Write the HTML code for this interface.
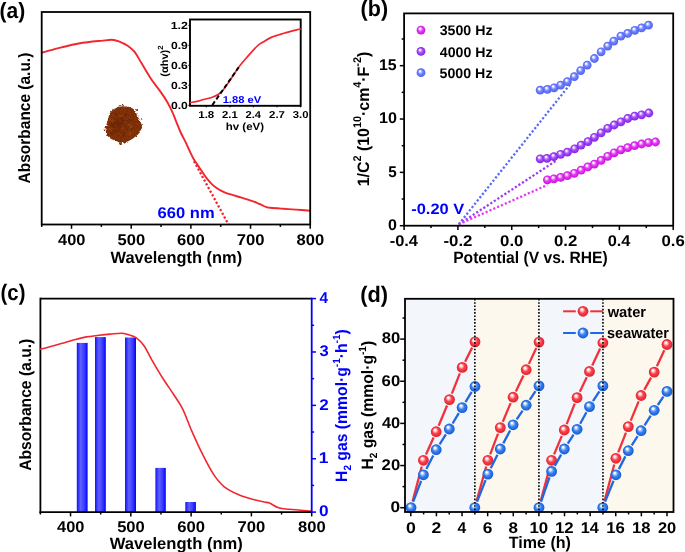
<!DOCTYPE html>
<html><head><meta charset="utf-8"><style>
html,body{margin:0;padding:0;background:#fff;}
svg{display:block;filter:grayscale(0%);}
text{white-space:pre;}
</style></head><body>
<svg width="685" height="552" viewBox="0 0 685 552" text-rendering="geometricPrecision">
<rect width="685" height="552" fill="#fff"/>
<defs>
<radialGradient id="gm" cx="0.5" cy="0.5" r="0.5" fx="0.36" fy="0.3"><stop offset="0" stop-color="#ffffff"/><stop offset="0.12" stop-color="#ffffff"/><stop offset="0.3" stop-color="#f3a8fa"/><stop offset="0.55" stop-color="#e23cf2"/><stop offset="0.85" stop-color="#d21de6"/><stop offset="1" stop-color="#c414d8"/></radialGradient>
<radialGradient id="gp" cx="0.5" cy="0.5" r="0.5" fx="0.36" fy="0.3"><stop offset="0" stop-color="#ffffff"/><stop offset="0.12" stop-color="#ffffff"/><stop offset="0.3" stop-color="#cfa3fb"/><stop offset="0.55" stop-color="#a14cf5"/><stop offset="0.85" stop-color="#8f2ef0"/><stop offset="1" stop-color="#8224e0"/></radialGradient>
<radialGradient id="gb" cx="0.5" cy="0.5" r="0.5" fx="0.36" fy="0.3"><stop offset="0" stop-color="#ffffff"/><stop offset="0.12" stop-color="#ffffff"/><stop offset="0.3" stop-color="#bcc5ff"/><stop offset="0.55" stop-color="#6f80fb"/><stop offset="0.85" stop-color="#5a6cf7"/><stop offset="1" stop-color="#4c5ef0"/></radialGradient>
<radialGradient id="gr" cx="0.5" cy="0.5" r="0.5" fx="0.36" fy="0.3"><stop offset="0" stop-color="#ffffff"/><stop offset="0.12" stop-color="#ffffff"/><stop offset="0.3" stop-color="#ffb8bc"/><stop offset="0.55" stop-color="#f5444e"/><stop offset="0.85" stop-color="#ee2a36"/><stop offset="1" stop-color="#e0202c"/></radialGradient>
<radialGradient id="gB" cx="0.5" cy="0.5" r="0.5" fx="0.36" fy="0.3"><stop offset="0" stop-color="#ffffff"/><stop offset="0.12" stop-color="#ffffff"/><stop offset="0.3" stop-color="#a9c8f7"/><stop offset="0.55" stop-color="#3a82ea"/><stop offset="0.85" stop-color="#1f68e0"/><stop offset="1" stop-color="#1558d0"/></radialGradient>
<linearGradient id="bar" x1="0" y1="0" x2="1" y2="0"><stop offset="0" stop-color="#1010ff"/><stop offset="0.35" stop-color="#6060ff"/><stop offset="0.7" stop-color="#3a3aff"/><stop offset="1" stop-color="#0000ff"/></linearGradient>
</defs>
<filter id="pb" x="-20%" y="-20%" width="140%" height="140%" color-interpolation-filters="sRGB"><feTurbulence type="fractalNoise" baseFrequency="0.45" numOctaves="2" seed="5" result="n"/><feDisplacementMap in="SourceGraphic" in2="n" scale="3.5" xChannelSelector="R" yChannelSelector="G" result="d"/><feTurbulence type="fractalNoise" baseFrequency="0.7" numOctaves="2" seed="9" result="n2"/><feColorMatrix in="n2" type="matrix" values="0 0 0 0 0.38  0 0 0 0 0.13  0 0 0 0 0.01  2.2 0 0 0 -0.95" result="tex"/><feComposite in="tex" in2="d" operator="atop" result="t"/><feGaussianBlur in="t" stdDeviation="0.45"/></filter>
<g filter="url(#pb)">
<polygon points="141.6,124.6 141.9,126.3 141.8,128.0 141.5,129.6 140.8,131.1 139.8,132.5 138.7,133.8 137.5,134.9 136.3,135.9 135.1,136.9 133.9,137.8 132.7,138.7 131.4,139.5 130.1,140.2 128.7,140.9 127.3,141.5 125.9,142.1 124.4,142.6 122.8,143.0 121.2,143.1 119.6,142.6 118.2,141.9 116.8,141.2 115.3,140.6 113.9,140.0 112.4,139.4 110.9,138.7 109.6,137.8 108.3,136.8 107.3,135.5 106.5,134.0 106.0,132.4 105.7,130.8 105.7,129.2 105.8,127.6 106.1,126.1 106.5,124.6 106.9,123.2 107.3,121.9 107.7,120.6 108.0,119.2 108.4,117.9 108.7,116.5 109.2,115.1 109.7,113.6 110.5,112.3 111.5,111.1 112.6,110.0 113.9,109.1 115.2,108.4 116.7,107.7 118.1,107.2 119.7,106.8 121.2,106.5 122.8,106.3 124.4,106.3 126.0,106.4 127.6,106.6 129.2,106.9 130.8,107.5 132.3,108.2 133.6,109.2 134.7,110.4 135.6,111.8 136.3,113.3 136.9,114.8 137.5,116.1 138.2,117.4 138.9,118.7 139.7,120.1 140.5,121.5 141.1,123.0" fill="#85340a"/>
<circle cx="121.6" cy="126.4" r="0.9" fill="#6c2604" opacity="0.75"/>
<circle cx="117.5" cy="123.4" r="2.1" fill="#6c2604" opacity="0.75"/>
<circle cx="122.8" cy="125.7" r="0.9" fill="#a0470f" opacity="0.75"/>
<circle cx="127.5" cy="127.7" r="1.0" fill="#72290a" opacity="0.75"/>
<circle cx="124.0" cy="133.2" r="1.6" fill="#6c2604" opacity="0.75"/>
<circle cx="111.6" cy="132.8" r="1.6" fill="#6c2604" opacity="0.75"/>
<circle cx="126.4" cy="128.9" r="1.0" fill="#72290a" opacity="0.75"/>
<circle cx="118.4" cy="135.2" r="0.9" fill="#7a2d05" opacity="0.75"/>
<circle cx="120.1" cy="123.4" r="1.6" fill="#6c2604" opacity="0.75"/>
<circle cx="123.3" cy="124.8" r="1.5" fill="#7a2d05" opacity="0.75"/>
<circle cx="111.8" cy="122.3" r="1.6" fill="#a0470f" opacity="0.75"/>
<circle cx="118.5" cy="125.7" r="1.8" fill="#7a2d05" opacity="0.75"/>
<circle cx="122.8" cy="132.5" r="1.5" fill="#72290a" opacity="0.75"/>
<circle cx="119.0" cy="129.7" r="2.2" fill="#72290a" opacity="0.75"/>
<circle cx="126.8" cy="128.5" r="1.0" fill="#963f0e" opacity="0.75"/>
<circle cx="122.0" cy="124.5" r="1.9" fill="#6c2604" opacity="0.75"/>
<circle cx="111.5" cy="119.1" r="1.3" fill="#963f0e" opacity="0.75"/>
<circle cx="118.4" cy="130.1" r="0.9" fill="#a0470f" opacity="0.75"/>
<circle cx="125.6" cy="126.6" r="0.9" fill="#6c2604" opacity="0.75"/>
<circle cx="119.8" cy="115.9" r="1.2" fill="#a0470f" opacity="0.75"/>
<circle cx="115.4" cy="130.7" r="2.1" fill="#6c2604" opacity="0.75"/>
<circle cx="117.2" cy="131.2" r="0.9" fill="#a0470f" opacity="0.75"/>
<circle cx="122.7" cy="122.7" r="1.4" fill="#7a2d05" opacity="0.75"/>
<circle cx="128.5" cy="121.0" r="1.4" fill="#7a2d05" opacity="0.75"/>
<circle cx="110.7" cy="120.7" r="2.0" fill="#a0470f" opacity="0.75"/>
<circle cx="121.5" cy="130.2" r="1.8" fill="#963f0e" opacity="0.75"/>
<circle cx="120.1" cy="126.7" r="1.0" fill="#6c2604" opacity="0.75"/>
<circle cx="122.9" cy="127.7" r="2.0" fill="#a0470f" opacity="0.75"/>
<circle cx="124.1" cy="128.1" r="1.4" fill="#7a2d05" opacity="0.75"/>
<circle cx="117.1" cy="130.3" r="1.8" fill="#7a2d05" opacity="0.75"/>
<circle cx="113.9" cy="123.7" r="1.4" fill="#6c2604" opacity="0.75"/>
<circle cx="131.7" cy="114.8" r="1.3" fill="#72290a" opacity="0.75"/>
<circle cx="121.3" cy="125.4" r="0.9" fill="#a0470f" opacity="0.75"/>
<circle cx="125.2" cy="125.7" r="1.0" fill="#7a2d05" opacity="0.75"/>
<circle cx="121.3" cy="123.7" r="1.0" fill="#72290a" opacity="0.75"/>
<circle cx="126.6" cy="127.5" r="0.9" fill="#6c2604" opacity="0.75"/>
<circle cx="123.9" cy="129.6" r="2.1" fill="#963f0e" opacity="0.75"/>
<circle cx="117.2" cy="120.5" r="2.0" fill="#6c2604" opacity="0.75"/>
<circle cx="129.0" cy="124.2" r="1.2" fill="#a0470f" opacity="0.75"/>
<circle cx="129.0" cy="132.8" r="1.5" fill="#963f0e" opacity="0.75"/>
<circle cx="119.9" cy="117.7" r="2.1" fill="#7a2d05" opacity="0.75"/>
<circle cx="120.5" cy="124.1" r="2.1" fill="#72290a" opacity="0.75"/>
<circle cx="122.7" cy="120.3" r="1.8" fill="#6c2604" opacity="0.75"/>
<circle cx="122.1" cy="129.6" r="1.3" fill="#7a2d05" opacity="0.75"/>
<circle cx="123.8" cy="132.0" r="1.3" fill="#72290a" opacity="0.75"/>
<circle cx="124.4" cy="135.7" r="1.9" fill="#7a2d05" opacity="0.75"/>
<circle cx="126.8" cy="115.1" r="1.1" fill="#7a2d05" opacity="0.75"/>
<circle cx="112.3" cy="125.0" r="1.9" fill="#6c2604" opacity="0.75"/>
<circle cx="119.8" cy="125.0" r="2.1" fill="#72290a" opacity="0.75"/>
<circle cx="110.1" cy="128.8" r="2.1" fill="#963f0e" opacity="0.75"/>
<circle cx="120.5" cy="126.8" r="1.5" fill="#7a2d05" opacity="0.75"/>
<circle cx="119.0" cy="130.3" r="2.0" fill="#72290a" opacity="0.75"/>
<circle cx="113.4" cy="125.7" r="2.0" fill="#6c2604" opacity="0.75"/>
<circle cx="126.5" cy="128.2" r="1.5" fill="#7a2d05" opacity="0.75"/>
<circle cx="127.3" cy="134.5" r="0.9" fill="#963f0e" opacity="0.75"/>
<circle cx="132.0" cy="121.1" r="1.4" fill="#a0470f" opacity="0.75"/>
<circle cx="132.1" cy="121.2" r="2.2" fill="#7a2d05" opacity="0.75"/>
<circle cx="130.6" cy="125.9" r="1.9" fill="#a0470f" opacity="0.75"/>
<circle cx="129.5" cy="133.7" r="1.7" fill="#a0470f" opacity="0.75"/>
<circle cx="118.0" cy="130.7" r="0.8" fill="#7a2d05" opacity="0.75"/>
<circle cx="125.6" cy="114.8" r="1.5" fill="#6c2604" opacity="0.75"/>
<circle cx="128.1" cy="122.0" r="2.0" fill="#7a2d05" opacity="0.75"/>
<circle cx="123.4" cy="127.9" r="1.5" fill="#963f0e" opacity="0.75"/>
<circle cx="122.9" cy="120.0" r="1.4" fill="#72290a" opacity="0.75"/>
<circle cx="131.2" cy="133.8" r="2.1" fill="#963f0e" opacity="0.75"/>
<circle cx="116.5" cy="114.8" r="1.4" fill="#72290a" opacity="0.75"/>
<circle cx="128.6" cy="121.0" r="1.0" fill="#72290a" opacity="0.75"/>
<circle cx="110.3" cy="123.7" r="1.7" fill="#7a2d05" opacity="0.75"/>
<circle cx="122.8" cy="122.4" r="1.5" fill="#7a2d05" opacity="0.75"/>
<circle cx="121.3" cy="116.8" r="1.8" fill="#963f0e" opacity="0.75"/>
<circle cx="119" cy="105.6" r="0.9" fill="#8a380c"/>
<circle cx="122.6" cy="105.6" r="1.0" fill="#8a380c"/>
<circle cx="137.1" cy="110" r="1.1" fill="#8a380c"/>
<circle cx="141.6" cy="119" r="0.8" fill="#8a380c"/>
<circle cx="104.5" cy="129.4" r="0.8" fill="#8a380c"/>
<circle cx="120.4" cy="143.4" r="1.4" fill="#8a380c"/>
</g>
<path d="M41.70,52.80 C44.33,52.07 51.95,49.83 57.50,48.40 C63.05,46.97 69.15,45.35 75.00,44.20 C80.85,43.05 88.22,42.05 92.60,41.50 C96.98,40.95 98.10,41.18 101.30,40.90 C104.50,40.62 108.88,39.72 111.80,39.80 C114.72,39.88 116.17,40.40 118.80,41.40 C121.43,42.40 124.97,44.05 127.60,45.80 C130.23,47.55 132.27,48.98 134.60,51.90 C136.93,54.82 138.73,58.62 141.60,63.30 C144.47,67.98 148.75,75.40 151.80,80.00 C154.85,84.60 157.35,87.28 159.90,90.90 C162.45,94.52 164.98,98.08 167.10,101.70 C169.22,105.32 171.08,109.28 172.60,112.60 C174.12,115.92 174.85,118.28 176.20,121.60 C177.55,124.92 179.03,128.88 180.70,132.50 C182.37,136.12 184.78,140.38 186.20,143.30 C187.62,146.22 187.93,147.35 189.20,150.00 C190.47,152.65 192.00,156.12 193.80,159.20 C195.60,162.28 197.93,165.42 200.00,168.50 C202.07,171.58 204.15,175.02 206.20,177.70 C208.25,180.38 210.25,182.68 212.30,184.60 C214.35,186.52 216.45,187.92 218.50,189.20 C220.55,190.48 222.30,191.35 224.60,192.30 C226.90,193.25 229.48,194.00 232.30,194.90 C235.12,195.80 237.90,196.57 241.50,197.70 C245.10,198.83 251.25,200.80 253.90,201.70 C256.55,202.60 256.05,202.52 257.40,203.10 C258.75,203.68 260.57,204.57 262.00,205.20 C263.43,205.83 264.60,206.47 266.00,206.90 C267.40,207.33 267.50,207.48 270.40,207.80 C273.30,208.12 279.13,208.50 283.40,208.80 C287.67,209.10 291.53,209.28 296.00,209.60 C300.47,209.92 307.83,210.52 310.20,210.70" fill="none" stroke="#f2262e" stroke-width="1.9" stroke-linejoin="round" stroke-linecap="round" />
<line x1="194" y1="161.2" x2="228.5" y2="224.5" stroke="#f2262e" stroke-width="2.3" stroke-dasharray="2.2 2"/>
<rect x="41.7" y="12.0" width="268.5" height="212.5" fill="none" stroke="#000" stroke-width="1.8"/>
<line x1="41.70" y1="224.50" x2="41.70" y2="226.90" stroke="#000" stroke-width="1.5" />
<line x1="71.53" y1="224.50" x2="71.53" y2="228.80" stroke="#000" stroke-width="1.5" />
<line x1="101.37" y1="224.50" x2="101.37" y2="226.90" stroke="#000" stroke-width="1.5" />
<line x1="131.20" y1="224.50" x2="131.20" y2="228.80" stroke="#000" stroke-width="1.5" />
<line x1="161.03" y1="224.50" x2="161.03" y2="226.90" stroke="#000" stroke-width="1.5" />
<line x1="190.87" y1="224.50" x2="190.87" y2="228.80" stroke="#000" stroke-width="1.5" />
<line x1="220.70" y1="224.50" x2="220.70" y2="226.90" stroke="#000" stroke-width="1.5" />
<line x1="250.53" y1="224.50" x2="250.53" y2="228.80" stroke="#000" stroke-width="1.5" />
<line x1="280.37" y1="224.50" x2="280.37" y2="226.90" stroke="#000" stroke-width="1.5" />
<line x1="310.20" y1="224.50" x2="310.20" y2="228.80" stroke="#000" stroke-width="1.5" />
<text transform="translate(58.09,244.60) scale(1.0579,1)" font-family="Liberation Sans" font-weight="bold" font-size="15.5" fill="#000" stroke="#000" stroke-width="0">400</text>
<text transform="translate(117.50,244.60) scale(1.0679,1)" font-family="Liberation Sans" font-weight="bold" font-size="15.5" fill="#000" stroke="#000" stroke-width="0">500</text>
<text transform="translate(177.09,244.60) scale(1.0712,1)" font-family="Liberation Sans" font-weight="bold" font-size="15.5" fill="#000" stroke="#000" stroke-width="0">600</text>
<text transform="translate(236.67,244.60) scale(1.0746,1)" font-family="Liberation Sans" font-weight="bold" font-size="15.5" fill="#000" stroke="#000" stroke-width="0">700</text>
<text transform="translate(296.50,244.60) scale(1.0679,1)" font-family="Liberation Sans" font-weight="bold" font-size="15.5" fill="#000" stroke="#000" stroke-width="0">800</text>
<text transform="translate(110.50,262.80) scale(0.9946,1)" font-family="Liberation Sans" font-weight="bold" font-size="16.5" fill="#000" stroke="#000" stroke-width="0">Wavelength (nm)</text>
<text transform="translate(30.30,183.39) rotate(-90) scale(0.9379,1)" font-family="Liberation Sans" font-weight="bold" font-size="16.5" fill="#000" stroke="#000" stroke-width="0">Absorbance (a.u.)</text>
<text transform="translate(157.62,217.60) scale(1.0669,1)" font-family="Liberation Sans" font-weight="bold" font-size="15.5" fill="#0000ff" stroke="#0000ff" stroke-width="0">660 nm</text>
<text transform="translate(-0.55,18.00) scale(0.9532,1)" font-family="Liberation Sans" font-weight="bold" font-size="22.1" fill="#000" stroke="#000" stroke-width="0">(a)</text>
<rect x="190.0" y="19.5" width="110.69999999999999" height="86.3" fill="#fff" stroke="#000" stroke-width="1.9"/>
<path d="M190.50,102.50 C191.80,102.28 196.13,101.70 198.30,101.20 C200.47,100.70 201.17,100.17 203.50,99.50 C205.83,98.83 209.67,98.17 212.30,97.20 C214.93,96.23 217.40,95.02 219.30,93.70 C221.20,92.38 221.95,91.48 223.70,89.30 C225.45,87.12 227.32,84.25 229.80,80.60 C232.28,76.95 235.68,71.35 238.60,67.40 C241.52,63.45 244.10,60.55 247.30,56.90 C250.50,53.25 255.17,47.98 257.80,45.50 C260.43,43.02 260.77,43.40 263.10,42.00 C265.43,40.60 268.30,38.55 271.80,37.10 C275.30,35.65 279.37,34.65 284.10,33.30 C288.83,31.95 297.52,29.72 300.20,29.00" fill="none" stroke="#f2262e" stroke-width="1.7" stroke-linejoin="round" stroke-linecap="round" />
<line x1="212.3" y1="105.1" x2="238.6" y2="67.4" stroke="#000" stroke-width="1.9" stroke-dasharray="4.5 2.5"/>
<line x1="188.50" y1="105.30" x2="190.00" y2="105.30" stroke="#000" stroke-width="1.2" />
<text transform="translate(170.91,108.90) scale(1.1858,1)" font-family="Liberation Sans" font-weight="bold" font-size="10.3" fill="#000" stroke="#000" stroke-width="0">0.0</text>
<line x1="188.50" y1="85.35" x2="190.00" y2="85.35" stroke="#000" stroke-width="1.2" />
<text transform="translate(170.91,88.95) scale(1.1813,1)" font-family="Liberation Sans" font-weight="bold" font-size="10.3" fill="#000" stroke="#000" stroke-width="0">0.3</text>
<line x1="188.50" y1="65.40" x2="190.00" y2="65.40" stroke="#000" stroke-width="1.2" />
<text transform="translate(170.91,69.00) scale(1.1813,1)" font-family="Liberation Sans" font-weight="bold" font-size="10.3" fill="#000" stroke="#000" stroke-width="0">0.6</text>
<line x1="188.50" y1="45.45" x2="190.00" y2="45.45" stroke="#000" stroke-width="1.2" />
<text transform="translate(170.91,49.05) scale(1.1813,1)" font-family="Liberation Sans" font-weight="bold" font-size="10.3" fill="#000" stroke="#000" stroke-width="0">0.9</text>
<line x1="188.50" y1="25.50" x2="190.00" y2="25.50" stroke="#000" stroke-width="1.2" />
<text transform="translate(170.66,29.10) scale(1.2042,1)" font-family="Liberation Sans" font-weight="bold" font-size="10.3" fill="#000" stroke="#000" stroke-width="0">1.2</text>
<line x1="206.40" y1="105.80" x2="206.40" y2="107.30" stroke="#000" stroke-width="1.2" />
<text transform="translate(198.21,118.40) scale(1.1538,1)" font-family="Liberation Sans" font-weight="bold" font-size="10" fill="#000" stroke="#000" stroke-width="0">1.8</text>
<line x1="229.92" y1="105.80" x2="229.92" y2="107.30" stroke="#000" stroke-width="1.2" />
<text transform="translate(222.03,118.40) scale(1.1278,1)" font-family="Liberation Sans" font-weight="bold" font-size="10" fill="#000" stroke="#000" stroke-width="0">2.1</text>
<line x1="253.44" y1="105.80" x2="253.44" y2="107.30" stroke="#000" stroke-width="1.2" />
<text transform="translate(245.55,118.40) scale(1.1111,1)" font-family="Liberation Sans" font-weight="bold" font-size="10" fill="#000" stroke="#000" stroke-width="0">2.4</text>
<line x1="276.96" y1="105.80" x2="276.96" y2="107.30" stroke="#000" stroke-width="1.2" />
<text transform="translate(269.06,118.40) scale(1.1407,1)" font-family="Liberation Sans" font-weight="bold" font-size="10" fill="#000" stroke="#000" stroke-width="0">2.7</text>
<line x1="300.48" y1="105.80" x2="300.48" y2="107.30" stroke="#000" stroke-width="1.2" />
<text transform="translate(292.70,118.40) scale(1.1321,1)" font-family="Liberation Sans" font-weight="bold" font-size="10" fill="#000" stroke="#000" stroke-width="0">3.0</text>
<text transform="translate(225.69,129.60) scale(1.0961,1)" font-family="Liberation Sans" font-weight="bold" font-size="10.5" fill="#000" stroke="#000" stroke-width="0">hv (eV)</text>
<g transform="translate(167.60,76.75) rotate(-90) scale(1.0503,1)" font-family="Liberation Sans" font-weight="bold" fill="#000" stroke="#000" stroke-width="0">
<text x="0.00" y="0.00" font-size="10.5">(αhv)</text>
<text x="25.70" y="-5.00" font-size="7.5">2</text>
</g>
<text transform="translate(222.63,102.50) scale(1.1213,1)" font-family="Liberation Sans" font-weight="bold" font-size="10" fill="#0000ff" stroke="#0000ff" stroke-width="0">1.88 eV</text>
<line x1="458.7" y1="224.3" x2="569.9" y2="84.5" stroke="#5a6cf7" stroke-width="2.3" stroke-dasharray="2.2 2"/>
<line x1="458.7" y1="224.3" x2="556.6" y2="160.4" stroke="#9a3cf2" stroke-width="2.3" stroke-dasharray="2.2 2"/>
<line x1="458.7" y1="224.3" x2="547.4" y2="185" stroke="#e23cf2" stroke-width="2.3" stroke-dasharray="2.2 2"/>
<circle cx="547.40" cy="179.80" r="4.4" fill="url(#gm)"/>
<circle cx="553.90" cy="178.80" r="4.4" fill="url(#gm)"/>
<circle cx="560.70" cy="177.40" r="4.4" fill="url(#gm)"/>
<circle cx="567.40" cy="175.70" r="4.4" fill="url(#gm)"/>
<circle cx="574.30" cy="173.30" r="4.4" fill="url(#gm)"/>
<circle cx="581.10" cy="170.20" r="4.4" fill="url(#gm)"/>
<circle cx="587.80" cy="166.90" r="4.4" fill="url(#gm)"/>
<circle cx="594.40" cy="164.10" r="4.4" fill="url(#gm)"/>
<circle cx="601.10" cy="160.40" r="4.4" fill="url(#gm)"/>
<circle cx="607.70" cy="156.30" r="4.4" fill="url(#gm)"/>
<circle cx="614.20" cy="152.80" r="4.4" fill="url(#gm)"/>
<circle cx="620.90" cy="149.80" r="4.4" fill="url(#gm)"/>
<circle cx="627.70" cy="147.70" r="4.4" fill="url(#gm)"/>
<circle cx="634.60" cy="145.70" r="4.4" fill="url(#gm)"/>
<circle cx="641.60" cy="144.00" r="4.4" fill="url(#gm)"/>
<circle cx="648.50" cy="142.60" r="4.4" fill="url(#gm)"/>
<circle cx="655.50" cy="142.00" r="4.4" fill="url(#gm)"/>
<circle cx="540.20" cy="158.80" r="4.4" fill="url(#gp)"/>
<circle cx="547.00" cy="158.40" r="4.4" fill="url(#gp)"/>
<circle cx="553.90" cy="156.70" r="4.4" fill="url(#gp)"/>
<circle cx="560.70" cy="154.30" r="4.4" fill="url(#gp)"/>
<circle cx="567.40" cy="152.20" r="4.4" fill="url(#gp)"/>
<circle cx="574.60" cy="148.80" r="4.4" fill="url(#gp)"/>
<circle cx="581.10" cy="145.10" r="4.4" fill="url(#gp)"/>
<circle cx="588.00" cy="141.60" r="4.4" fill="url(#gp)"/>
<circle cx="594.40" cy="137.30" r="4.4" fill="url(#gp)"/>
<circle cx="601.10" cy="132.80" r="4.4" fill="url(#gp)"/>
<circle cx="607.70" cy="128.30" r="4.4" fill="url(#gp)"/>
<circle cx="614.20" cy="125.00" r="4.4" fill="url(#gp)"/>
<circle cx="620.90" cy="121.80" r="4.4" fill="url(#gp)"/>
<circle cx="627.70" cy="118.50" r="4.4" fill="url(#gp)"/>
<circle cx="634.60" cy="116.10" r="4.4" fill="url(#gp)"/>
<circle cx="641.60" cy="114.80" r="4.4" fill="url(#gp)"/>
<circle cx="648.90" cy="113.00" r="4.4" fill="url(#gp)"/>
<circle cx="540.20" cy="90.20" r="4.4" fill="url(#gb)"/>
<circle cx="547.40" cy="89.40" r="4.4" fill="url(#gb)"/>
<circle cx="554.10" cy="87.80" r="4.4" fill="url(#gb)"/>
<circle cx="560.70" cy="85.10" r="4.4" fill="url(#gb)"/>
<circle cx="567.40" cy="81.60" r="4.4" fill="url(#gb)"/>
<circle cx="574.30" cy="76.70" r="4.4" fill="url(#gb)"/>
<circle cx="580.70" cy="70.60" r="4.4" fill="url(#gb)"/>
<circle cx="587.20" cy="65.10" r="4.4" fill="url(#gb)"/>
<circle cx="594.40" cy="58.50" r="4.4" fill="url(#gb)"/>
<circle cx="601.10" cy="51.80" r="4.4" fill="url(#gb)"/>
<circle cx="607.70" cy="46.10" r="4.4" fill="url(#gb)"/>
<circle cx="613.80" cy="41.20" r="4.4" fill="url(#gb)"/>
<circle cx="620.90" cy="36.10" r="4.4" fill="url(#gb)"/>
<circle cx="627.70" cy="33.40" r="4.4" fill="url(#gb)"/>
<circle cx="634.80" cy="30.30" r="4.4" fill="url(#gb)"/>
<circle cx="641.60" cy="27.90" r="4.4" fill="url(#gb)"/>
<circle cx="648.50" cy="25.20" r="4.4" fill="url(#gb)"/>
<rect x="404.1" y="13.4" width="269.1" height="212.29999999999998" fill="none" stroke="#000" stroke-width="1.8"/>
<line x1="404.10" y1="225.70" x2="404.10" y2="230.00" stroke="#000" stroke-width="1.5" />
<line x1="431.01" y1="225.70" x2="431.01" y2="228.10" stroke="#000" stroke-width="1.5" />
<line x1="457.92" y1="225.70" x2="457.92" y2="230.00" stroke="#000" stroke-width="1.5" />
<line x1="484.83" y1="225.70" x2="484.83" y2="228.10" stroke="#000" stroke-width="1.5" />
<line x1="511.74" y1="225.70" x2="511.74" y2="230.00" stroke="#000" stroke-width="1.5" />
<line x1="538.65" y1="225.70" x2="538.65" y2="228.10" stroke="#000" stroke-width="1.5" />
<line x1="565.56" y1="225.70" x2="565.56" y2="230.00" stroke="#000" stroke-width="1.5" />
<line x1="592.47" y1="225.70" x2="592.47" y2="228.10" stroke="#000" stroke-width="1.5" />
<line x1="619.38" y1="225.70" x2="619.38" y2="230.00" stroke="#000" stroke-width="1.5" />
<line x1="646.29" y1="225.70" x2="646.29" y2="228.10" stroke="#000" stroke-width="1.5" />
<line x1="673.20" y1="225.70" x2="673.20" y2="230.00" stroke="#000" stroke-width="1.5" />
<text transform="translate(389.64,245.60) scale(1.0631,1)" font-family="Liberation Sans" font-weight="bold" font-size="15.5" fill="#000" stroke="#000" stroke-width="0">-0.4</text>
<text transform="translate(443.45,245.60) scale(1.0858,1)" font-family="Liberation Sans" font-weight="bold" font-size="15.5" fill="#000" stroke="#000" stroke-width="0">-0.2</text>
<text transform="translate(500.07,245.60) scale(1.0835,1)" font-family="Liberation Sans" font-weight="bold" font-size="15.5" fill="#000" stroke="#000" stroke-width="0">0.0</text>
<text transform="translate(553.89,245.60) scale(1.0835,1)" font-family="Liberation Sans" font-weight="bold" font-size="15.5" fill="#000" stroke="#000" stroke-width="0">0.2</text>
<text transform="translate(607.73,245.60) scale(1.0553,1)" font-family="Liberation Sans" font-weight="bold" font-size="15.5" fill="#000" stroke="#000" stroke-width="0">0.4</text>
<text transform="translate(661.53,245.60) scale(1.0794,1)" font-family="Liberation Sans" font-weight="bold" font-size="15.5" fill="#000" stroke="#000" stroke-width="0">0.6</text>
<line x1="399.80" y1="225.70" x2="404.10" y2="225.70" stroke="#000" stroke-width="1.5" />
<line x1="401.70" y1="199.03" x2="404.10" y2="199.03" stroke="#000" stroke-width="1.5" />
<line x1="399.80" y1="172.36" x2="404.10" y2="172.36" stroke="#000" stroke-width="1.5" />
<line x1="401.70" y1="145.69" x2="404.10" y2="145.69" stroke="#000" stroke-width="1.5" />
<line x1="399.80" y1="119.02" x2="404.10" y2="119.02" stroke="#000" stroke-width="1.5" />
<line x1="401.70" y1="92.35" x2="404.10" y2="92.35" stroke="#000" stroke-width="1.5" />
<line x1="399.80" y1="65.67" x2="404.10" y2="65.67" stroke="#000" stroke-width="1.5" />
<line x1="401.70" y1="39.00" x2="404.10" y2="39.00" stroke="#000" stroke-width="1.5" />
<text transform="translate(387.96,229.90) scale(1.0323,1)" font-family="Liberation Sans" font-weight="bold" font-size="15.5" fill="#000" stroke="#000" stroke-width="0">0</text>
<text transform="translate(388.14,176.56) scale(0.9806,1)" font-family="Liberation Sans" font-weight="bold" font-size="15.5" fill="#000" stroke="#000" stroke-width="0">5</text>
<text transform="translate(378.93,123.22) scale(1.0412,1)" font-family="Liberation Sans" font-weight="bold" font-size="15.5" fill="#000" stroke="#000" stroke-width="0">10</text>
<text transform="translate(378.95,69.87) scale(1.0260,1)" font-family="Liberation Sans" font-weight="bold" font-size="15.5" fill="#000" stroke="#000" stroke-width="0">15</text>
<text transform="translate(453.18,262.80) scale(0.9469,1)" font-family="Liberation Sans" font-weight="bold" font-size="16.5" fill="#000" stroke="#000" stroke-width="0">Potential (V vs. RHE)</text>
<g transform="translate(369.00,186.26) rotate(-90) scale(0.9650,1)" font-family="Liberation Sans" font-weight="bold" fill="#000" stroke="#000" stroke-width="0">
<text x="0.00" y="0.00" font-size="16.5">1/C</text>
<text x="25.68" y="-7.80" font-size="11.2">2</text>
<text x="31.91" y="0.00" font-size="16.5"> (10</text>
<text x="60.34" y="-7.80" font-size="11.2">10</text>
<text x="72.80" y="0.00" font-size="16.5">·cm</text>
<text x="102.14" y="-7.80" font-size="11.2">4</text>
<text x="108.37" y="0.00" font-size="16.5">·F</text>
<text x="123.94" y="-7.80" font-size="11.2">-2</text>
<text x="133.90" y="0.00" font-size="16.5">)</text>
</g>
<circle cx="421.00" cy="30.10" r="4.4" fill="url(#gm)"/>
<text transform="translate(439.65,35.40) scale(1.0134,1)" font-family="Liberation Sans" font-weight="bold" font-size="14" fill="#000" stroke="#000" stroke-width="0">3500 Hz</text>
<circle cx="421.00" cy="51.40" r="4.4" fill="url(#gp)"/>
<text transform="translate(439.79,56.70) scale(1.0107,1)" font-family="Liberation Sans" font-weight="bold" font-size="14" fill="#000" stroke="#000" stroke-width="0">4000 Hz</text>
<circle cx="421.00" cy="72.70" r="4.4" fill="url(#gb)"/>
<text transform="translate(439.57,78.00) scale(1.0148,1)" font-family="Liberation Sans" font-weight="bold" font-size="14" fill="#000" stroke="#000" stroke-width="0">5000 Hz</text>
<text transform="translate(411.24,213.70) scale(1.0961,1)" font-family="Liberation Sans" font-weight="bold" font-size="15" fill="#0000ff" stroke="#0000ff" stroke-width="0">-0.20 V</text>
<text transform="translate(360.62,16.00) scale(0.9610,1)" font-family="Liberation Sans" font-weight="bold" font-size="22.4" fill="#000" stroke="#000" stroke-width="0">(b)</text>
<line x1="40.4" y1="298.6" x2="311.7" y2="298.6" stroke="#000" stroke-width="1.8"/>
<line x1="40.4" y1="297.70000000000005" x2="40.4" y2="513.0" stroke="#000" stroke-width="1.8"/>
<line x1="40.40" y1="512.10" x2="40.40" y2="514.50" stroke="#000" stroke-width="1.5" />
<line x1="70.54" y1="512.10" x2="70.54" y2="516.40" stroke="#000" stroke-width="1.5" />
<line x1="100.69" y1="512.10" x2="100.69" y2="514.50" stroke="#000" stroke-width="1.5" />
<line x1="130.83" y1="512.10" x2="130.83" y2="516.40" stroke="#000" stroke-width="1.5" />
<line x1="160.98" y1="512.10" x2="160.98" y2="514.50" stroke="#000" stroke-width="1.5" />
<line x1="191.12" y1="512.10" x2="191.12" y2="516.40" stroke="#000" stroke-width="1.5" />
<line x1="221.27" y1="512.10" x2="221.27" y2="514.50" stroke="#000" stroke-width="1.5" />
<line x1="251.41" y1="512.10" x2="251.41" y2="516.40" stroke="#000" stroke-width="1.5" />
<line x1="281.56" y1="512.10" x2="281.56" y2="514.50" stroke="#000" stroke-width="1.5" />
<line x1="311.70" y1="512.10" x2="311.70" y2="516.40" stroke="#000" stroke-width="1.5" />
<rect x="76.8" y="342.9" width="10.80" height="169.20" fill="url(#bar)"/>
<rect x="95" y="337.1" width="10.80" height="175.00" fill="url(#bar)"/>
<rect x="125" y="337.5" width="11.00" height="174.60" fill="url(#bar)"/>
<rect x="155.4" y="467.9" width="10.40" height="44.20" fill="url(#bar)"/>
<rect x="185.3" y="502" width="10.60" height="10.10" fill="url(#bar)"/>
<path d="M40.40,349.30 C42.13,348.83 47.18,347.50 50.80,346.50 C54.42,345.50 58.35,344.37 62.10,343.30 C65.85,342.23 69.28,341.17 73.30,340.10 C77.32,339.03 81.92,337.70 86.20,336.90 C90.48,336.10 94.98,335.77 99.00,335.30 C103.02,334.83 106.55,334.45 110.30,334.10 C114.05,333.75 118.57,333.13 121.50,333.20 C124.43,333.27 125.48,333.75 127.90,334.50 C130.32,335.25 133.32,335.83 136.00,337.70 C138.68,339.57 141.37,342.00 144.00,345.70 C146.63,349.40 148.70,354.52 151.80,359.90 C154.90,365.28 158.98,372.27 162.60,378.00 C166.22,383.73 170.17,389.17 173.50,394.30 C176.83,399.43 179.58,402.75 182.60,408.80 C185.62,414.85 188.28,423.03 191.60,430.60 C194.92,438.17 198.87,446.95 202.50,454.20 C206.13,461.45 209.77,468.67 213.40,474.10 C217.03,479.53 220.07,483.35 224.30,486.80 C228.53,490.25 233.97,492.68 238.80,494.80 C243.63,496.92 249.07,498.30 253.30,499.50 C257.53,500.70 261.48,501.40 264.20,502.00 C266.92,502.60 267.18,502.13 269.60,503.10 C272.02,504.07 275.38,506.77 278.70,507.80 C282.02,508.83 284.07,508.75 289.50,509.30 C294.93,509.85 307.67,510.80 311.30,511.10" fill="none" stroke="#f2262e" stroke-width="1.6" stroke-linejoin="round" stroke-linecap="round" />
<line x1="39.5" y1="512.1" x2="311.7" y2="512.1" stroke="#000" stroke-width="1.9"/>
<line x1="311.7" y1="297.70000000000005" x2="311.7" y2="513.0" stroke="#0000ff" stroke-width="1.8"/>
<line x1="311.70" y1="512.10" x2="316.00" y2="512.10" stroke="#0000ff" stroke-width="1.5" />
<line x1="311.70" y1="485.41" x2="314.10" y2="485.41" stroke="#0000ff" stroke-width="1.5" />
<line x1="311.70" y1="458.73" x2="316.00" y2="458.73" stroke="#0000ff" stroke-width="1.5" />
<line x1="311.70" y1="432.04" x2="314.10" y2="432.04" stroke="#0000ff" stroke-width="1.5" />
<line x1="311.70" y1="405.35" x2="316.00" y2="405.35" stroke="#0000ff" stroke-width="1.5" />
<line x1="311.70" y1="378.66" x2="314.10" y2="378.66" stroke="#0000ff" stroke-width="1.5" />
<line x1="311.70" y1="351.98" x2="316.00" y2="351.98" stroke="#0000ff" stroke-width="1.5" />
<line x1="311.70" y1="325.29" x2="314.10" y2="325.29" stroke="#0000ff" stroke-width="1.5" />
<line x1="311.70" y1="298.60" x2="316.00" y2="298.60" stroke="#0000ff" stroke-width="1.5" />
<text transform="translate(319.11,516.40) scale(1.1138,1)" font-family="Liberation Sans" font-weight="bold" font-size="15.5" fill="#0000ff" stroke="#0000ff" stroke-width="0">0</text>
<text transform="translate(318.75,463.03) scale(1.1256,1)" font-family="Liberation Sans" font-weight="bold" font-size="15.5" fill="#0000ff" stroke="#0000ff" stroke-width="0">1</text>
<text transform="translate(319.20,409.65) scale(1.1022,1)" font-family="Liberation Sans" font-weight="bold" font-size="15.5" fill="#0000ff" stroke="#0000ff" stroke-width="0">2</text>
<text transform="translate(319.39,356.28) scale(1.0688,1)" font-family="Liberation Sans" font-weight="bold" font-size="15.5" fill="#0000ff" stroke="#0000ff" stroke-width="0">3</text>
<text transform="translate(319.57,302.90) scale(0.9888,1)" font-family="Liberation Sans" font-weight="bold" font-size="15.5" fill="#0000ff" stroke="#0000ff" stroke-width="0">4</text>
<text transform="translate(57.10,532.20) scale(1.0579,1)" font-family="Liberation Sans" font-weight="bold" font-size="15.5" fill="#000" stroke="#000" stroke-width="0">400</text>
<text transform="translate(117.14,532.20) scale(1.0679,1)" font-family="Liberation Sans" font-weight="bold" font-size="15.5" fill="#000" stroke="#000" stroke-width="0">500</text>
<text transform="translate(177.34,532.20) scale(1.0712,1)" font-family="Liberation Sans" font-weight="bold" font-size="15.5" fill="#000" stroke="#000" stroke-width="0">600</text>
<text transform="translate(237.54,532.20) scale(1.0746,1)" font-family="Liberation Sans" font-weight="bold" font-size="15.5" fill="#000" stroke="#000" stroke-width="0">700</text>
<text transform="translate(298.00,532.20) scale(1.0679,1)" font-family="Liberation Sans" font-weight="bold" font-size="15.5" fill="#000" stroke="#000" stroke-width="0">800</text>
<text transform="translate(109.80,548.50) scale(1.0053,1)" font-family="Liberation Sans" font-weight="bold" font-size="16.5" fill="#000" stroke="#000" stroke-width="0">Wavelength (nm)</text>
<text transform="translate(31.00,470.79) rotate(-90) scale(0.9473,1)" font-family="Liberation Sans" font-weight="bold" font-size="16.5" fill="#000" stroke="#000" stroke-width="0">Absorbance (a.u.)</text>
<g transform="translate(347.40,481.92) rotate(-90) scale(0.9532,1)" font-family="Liberation Sans" font-weight="bold" fill="#0000ff" stroke="#0000ff" stroke-width="0">
<text x="0.00" y="0.00" font-size="16.5">H</text>
<text x="11.92" y="3.50" font-size="10.5">2</text>
<text x="17.76" y="0.00" font-size="16.5"> gas (mmol·g</text>
<text x="120.43" y="-7.00" font-size="10.5">-1</text>
<text x="129.77" y="0.00" font-size="16.5">·h</text>
<text x="145.34" y="-7.00" font-size="10.5">-1</text>
<text x="154.68" y="0.00" font-size="16.5">)</text>
</g>
<text transform="translate(0.58,300.30) scale(0.9087,1)" font-family="Liberation Sans" font-weight="bold" font-size="22.4" fill="#000" stroke="#000" stroke-width="0">(c)</text>
<rect x="405.0" y="298.8" width="69.85" height="213.2" fill="#f3f7fc"/>
<rect x="474.85" y="298.8" width="64.05" height="213.2" fill="#fdf8ee"/>
<rect x="538.90" y="298.8" width="64.05" height="213.2" fill="#f3f7fc"/>
<rect x="602.95" y="298.8" width="70.55" height="213.2" fill="#fdf8ee"/>
<line x1="412.62" y1="501.41" x2="421.78" y2="466.49" stroke="#f0323c" stroke-width="2.3" />
<line x1="426.01" y1="454.46" x2="433.59" y2="437.54" stroke="#f0323c" stroke-width="2.3" />
<line x1="438.65" y1="425.79" x2="447.05" y2="405.51" stroke="#f0323c" stroke-width="2.3" />
<line x1="451.85" y1="393.65" x2="459.85" y2="373.35" stroke="#f0323c" stroke-width="2.3" />
<line x1="465.07" y1="361.68" x2="472.13" y2="347.62" stroke="#f0323c" stroke-width="2.3" />
<line x1="476.51" y1="501.43" x2="486.19" y2="466.47" stroke="#f0323c" stroke-width="2.3" />
<line x1="490.17" y1="454.32" x2="498.03" y2="433.58" stroke="#f0323c" stroke-width="2.3" />
<line x1="502.78" y1="421.70" x2="510.62" y2="403.10" stroke="#f0323c" stroke-width="2.3" />
<line x1="515.85" y1="391.42" x2="523.45" y2="375.48" stroke="#f0323c" stroke-width="2.3" />
<line x1="528.89" y1="363.89" x2="536.31" y2="347.91" stroke="#f0323c" stroke-width="2.3" />
<line x1="540.65" y1="501.42" x2="549.95" y2="466.48" stroke="#f0323c" stroke-width="2.3" />
<line x1="554.07" y1="454.40" x2="561.83" y2="435.90" stroke="#f0323c" stroke-width="2.3" />
<line x1="566.65" y1="424.05" x2="574.75" y2="403.55" stroke="#f0323c" stroke-width="2.3" />
<line x1="579.84" y1="391.82" x2="586.76" y2="377.18" stroke="#f0323c" stroke-width="2.3" />
<line x1="592.22" y1="365.60" x2="600.18" y2="348.60" stroke="#f0323c" stroke-width="2.3" />
<line x1="604.44" y1="501.41" x2="614.26" y2="464.49" stroke="#f0323c" stroke-width="2.3" />
<line x1="618.23" y1="452.34" x2="625.97" y2="432.56" stroke="#f0323c" stroke-width="2.3" />
<line x1="630.74" y1="420.68" x2="638.66" y2="401.42" stroke="#f0323c" stroke-width="2.3" />
<line x1="644.23" y1="389.92" x2="651.07" y2="377.68" stroke="#f0323c" stroke-width="2.3" />
<line x1="656.89" y1="366.29" x2="664.31" y2="350.31" stroke="#f0323c" stroke-width="2.3" />
<circle cx="423.40" cy="460.30" r="5.4" fill="url(#gr)"/>
<circle cx="436.20" cy="431.70" r="5.4" fill="url(#gr)"/>
<circle cx="449.50" cy="399.60" r="5.4" fill="url(#gr)"/>
<circle cx="462.20" cy="367.40" r="5.4" fill="url(#gr)"/>
<circle cx="475.00" cy="341.90" r="5.4" fill="url(#gr)"/>
<circle cx="487.90" cy="460.30" r="5.4" fill="url(#gr)"/>
<circle cx="500.30" cy="427.60" r="5.4" fill="url(#gr)"/>
<circle cx="513.10" cy="397.20" r="5.4" fill="url(#gr)"/>
<circle cx="526.20" cy="369.70" r="5.4" fill="url(#gr)"/>
<circle cx="539.00" cy="342.10" r="5.4" fill="url(#gr)"/>
<circle cx="551.60" cy="460.30" r="5.4" fill="url(#gr)"/>
<circle cx="564.30" cy="430.00" r="5.4" fill="url(#gr)"/>
<circle cx="577.10" cy="397.60" r="5.4" fill="url(#gr)"/>
<circle cx="589.50" cy="371.40" r="5.4" fill="url(#gr)"/>
<circle cx="602.90" cy="342.80" r="5.4" fill="url(#gr)"/>
<circle cx="615.90" cy="458.30" r="5.4" fill="url(#gr)"/>
<circle cx="628.30" cy="426.60" r="5.4" fill="url(#gr)"/>
<circle cx="641.10" cy="395.50" r="5.4" fill="url(#gr)"/>
<circle cx="654.20" cy="372.10" r="5.4" fill="url(#gr)"/>
<circle cx="667.00" cy="344.50" r="5.4" fill="url(#gr)"/>
<line x1="413.26" y1="501.61" x2="421.14" y2="480.79" stroke="#1f68e0" stroke-width="2.3" />
<line x1="426.31" y1="469.10" x2="433.29" y2="455.40" stroke="#1f68e0" stroke-width="2.3" />
<line x1="439.62" y1="444.29" x2="445.88" y2="434.41" stroke="#1f68e0" stroke-width="2.3" />
<line x1="452.59" y1="423.51" x2="458.81" y2="413.09" stroke="#1f68e0" stroke-width="2.3" />
<line x1="465.44" y1="402.14" x2="471.66" y2="391.96" stroke="#1f68e0" stroke-width="2.3" />
<line x1="477.13" y1="501.64" x2="485.57" y2="480.06" stroke="#1f68e0" stroke-width="2.3" />
<line x1="490.73" y1="468.36" x2="497.47" y2="454.74" stroke="#1f68e0" stroke-width="2.3" />
<line x1="503.29" y1="443.34" x2="510.11" y2="430.46" stroke="#1f68e0" stroke-width="2.3" />
<line x1="516.66" y1="419.48" x2="522.64" y2="410.52" stroke="#1f68e0" stroke-width="2.3" />
<line x1="529.74" y1="399.87" x2="535.46" y2="391.23" stroke="#1f68e0" stroke-width="2.3" />
<line x1="541.10" y1="501.56" x2="549.50" y2="477.44" stroke="#1f68e0" stroke-width="2.3" />
<line x1="554.76" y1="465.83" x2="561.14" y2="454.57" stroke="#1f68e0" stroke-width="2.3" />
<line x1="567.79" y1="443.63" x2="573.61" y2="434.67" stroke="#1f68e0" stroke-width="2.3" />
<line x1="580.17" y1="423.68" x2="586.43" y2="412.22" stroke="#1f68e0" stroke-width="2.3" />
<line x1="592.98" y1="401.23" x2="599.42" y2="391.27" stroke="#1f68e0" stroke-width="2.3" />
<line x1="605.17" y1="501.66" x2="613.53" y2="480.74" stroke="#1f68e0" stroke-width="2.3" />
<line x1="618.83" y1="469.11" x2="625.37" y2="456.39" stroke="#1f68e0" stroke-width="2.3" />
<line x1="631.75" y1="445.31" x2="637.65" y2="436.09" stroke="#1f68e0" stroke-width="2.3" />
<line x1="644.56" y1="425.31" x2="650.74" y2="415.69" stroke="#1f68e0" stroke-width="2.3" />
<line x1="657.79" y1="405.00" x2="663.41" y2="396.70" stroke="#1f68e0" stroke-width="2.3" />
<circle cx="411.00" cy="507.60" r="5.4" fill="url(#gB)"/>
<circle cx="423.40" cy="474.80" r="5.4" fill="url(#gB)"/>
<circle cx="436.20" cy="449.70" r="5.4" fill="url(#gB)"/>
<circle cx="449.30" cy="429.00" r="5.4" fill="url(#gB)"/>
<circle cx="462.10" cy="407.60" r="5.4" fill="url(#gB)"/>
<circle cx="475.00" cy="386.50" r="5.4" fill="url(#gB)"/>
<circle cx="474.80" cy="507.60" r="5.4" fill="url(#gB)"/>
<circle cx="487.90" cy="474.10" r="5.4" fill="url(#gB)"/>
<circle cx="500.30" cy="449.00" r="5.4" fill="url(#gB)"/>
<circle cx="513.10" cy="424.80" r="5.4" fill="url(#gB)"/>
<circle cx="526.20" cy="405.20" r="5.4" fill="url(#gB)"/>
<circle cx="539.00" cy="385.90" r="5.4" fill="url(#gB)"/>
<circle cx="539.00" cy="507.60" r="5.4" fill="url(#gB)"/>
<circle cx="551.60" cy="471.40" r="5.4" fill="url(#gB)"/>
<circle cx="564.30" cy="449.00" r="5.4" fill="url(#gB)"/>
<circle cx="577.10" cy="429.30" r="5.4" fill="url(#gB)"/>
<circle cx="589.50" cy="406.60" r="5.4" fill="url(#gB)"/>
<circle cx="602.90" cy="385.90" r="5.4" fill="url(#gB)"/>
<circle cx="602.80" cy="507.60" r="5.4" fill="url(#gB)"/>
<circle cx="615.90" cy="474.80" r="5.4" fill="url(#gB)"/>
<circle cx="628.30" cy="450.70" r="5.4" fill="url(#gB)"/>
<circle cx="641.10" cy="430.70" r="5.4" fill="url(#gB)"/>
<circle cx="654.20" cy="410.30" r="5.4" fill="url(#gB)"/>
<circle cx="667.00" cy="391.40" r="5.4" fill="url(#gB)"/>
<line x1="474.85" y1="298.8" x2="474.85" y2="512.0" stroke="#000" stroke-width="1.6" stroke-dasharray="1.6 1.73"/>
<line x1="538.90" y1="298.8" x2="538.90" y2="512.0" stroke="#000" stroke-width="1.6" stroke-dasharray="1.6 1.73"/>
<line x1="602.95" y1="298.8" x2="602.95" y2="512.0" stroke="#000" stroke-width="1.6" stroke-dasharray="1.6 1.73"/>
<rect x="405.0" y="298.8" width="268.5" height="213.2" fill="none" stroke="#000" stroke-width="1.8"/>
<line x1="410.80" y1="512.00" x2="410.80" y2="516.30" stroke="#000" stroke-width="1.5" />
<line x1="423.61" y1="512.00" x2="423.61" y2="514.40" stroke="#000" stroke-width="1.5" />
<line x1="436.42" y1="512.00" x2="436.42" y2="516.30" stroke="#000" stroke-width="1.5" />
<line x1="449.23" y1="512.00" x2="449.23" y2="514.40" stroke="#000" stroke-width="1.5" />
<line x1="462.04" y1="512.00" x2="462.04" y2="516.30" stroke="#000" stroke-width="1.5" />
<line x1="474.85" y1="512.00" x2="474.85" y2="514.40" stroke="#000" stroke-width="1.5" />
<line x1="487.66" y1="512.00" x2="487.66" y2="516.30" stroke="#000" stroke-width="1.5" />
<line x1="500.47" y1="512.00" x2="500.47" y2="514.40" stroke="#000" stroke-width="1.5" />
<line x1="513.28" y1="512.00" x2="513.28" y2="516.30" stroke="#000" stroke-width="1.5" />
<line x1="526.09" y1="512.00" x2="526.09" y2="514.40" stroke="#000" stroke-width="1.5" />
<line x1="538.90" y1="512.00" x2="538.90" y2="516.30" stroke="#000" stroke-width="1.5" />
<line x1="551.71" y1="512.00" x2="551.71" y2="514.40" stroke="#000" stroke-width="1.5" />
<line x1="564.52" y1="512.00" x2="564.52" y2="516.30" stroke="#000" stroke-width="1.5" />
<line x1="577.33" y1="512.00" x2="577.33" y2="514.40" stroke="#000" stroke-width="1.5" />
<line x1="590.14" y1="512.00" x2="590.14" y2="516.30" stroke="#000" stroke-width="1.5" />
<line x1="602.95" y1="512.00" x2="602.95" y2="514.40" stroke="#000" stroke-width="1.5" />
<line x1="615.76" y1="512.00" x2="615.76" y2="516.30" stroke="#000" stroke-width="1.5" />
<line x1="628.57" y1="512.00" x2="628.57" y2="514.40" stroke="#000" stroke-width="1.5" />
<line x1="641.38" y1="512.00" x2="641.38" y2="516.30" stroke="#000" stroke-width="1.5" />
<line x1="654.19" y1="512.00" x2="654.19" y2="514.40" stroke="#000" stroke-width="1.5" />
<line x1="667.00" y1="512.00" x2="667.00" y2="516.30" stroke="#000" stroke-width="1.5" />
<line x1="400.20" y1="507.70" x2="405.00" y2="507.70" stroke="#000" stroke-width="1.5" />
<line x1="402.50" y1="486.62" x2="405.00" y2="486.62" stroke="#000" stroke-width="1.5" />
<line x1="400.20" y1="465.55" x2="405.00" y2="465.55" stroke="#000" stroke-width="1.5" />
<line x1="402.50" y1="444.48" x2="405.00" y2="444.48" stroke="#000" stroke-width="1.5" />
<line x1="400.20" y1="423.40" x2="405.00" y2="423.40" stroke="#000" stroke-width="1.5" />
<line x1="402.50" y1="402.32" x2="405.00" y2="402.32" stroke="#000" stroke-width="1.5" />
<line x1="400.20" y1="381.25" x2="405.00" y2="381.25" stroke="#000" stroke-width="1.5" />
<line x1="402.50" y1="360.17" x2="405.00" y2="360.17" stroke="#000" stroke-width="1.5" />
<line x1="400.20" y1="339.10" x2="405.00" y2="339.10" stroke="#000" stroke-width="1.5" />
<line x1="402.50" y1="318.02" x2="405.00" y2="318.02" stroke="#000" stroke-width="1.5" />
<text transform="translate(390.61,512.00) scale(1.1138,1)" font-family="Liberation Sans" font-weight="bold" font-size="15.5" fill="#000" stroke="#000" stroke-width="0">0</text>
<text transform="translate(381.61,469.85) scale(1.0784,1)" font-family="Liberation Sans" font-weight="bold" font-size="15.5" fill="#000" stroke="#000" stroke-width="0">20</text>
<text transform="translate(381.95,427.70) scale(1.0579,1)" font-family="Liberation Sans" font-weight="bold" font-size="15.5" fill="#000" stroke="#000" stroke-width="0">40</text>
<text transform="translate(381.61,385.55) scale(1.0784,1)" font-family="Liberation Sans" font-weight="bold" font-size="15.5" fill="#000" stroke="#000" stroke-width="0">60</text>
<text transform="translate(381.70,343.40) scale(1.0732,1)" font-family="Liberation Sans" font-weight="bold" font-size="15.5" fill="#000" stroke="#000" stroke-width="0">80</text>
<text transform="translate(405.89,532.50) scale(1.1409,1)" font-family="Liberation Sans" font-weight="bold" font-size="15.5" fill="#000" stroke="#000" stroke-width="0">0</text>
<text transform="translate(431.61,532.50) scale(1.1290,1)" font-family="Liberation Sans" font-weight="bold" font-size="15.5" fill="#000" stroke="#000" stroke-width="0">2</text>
<text transform="translate(457.60,532.50) scale(1.0130,1)" font-family="Liberation Sans" font-weight="bold" font-size="15.5" fill="#000" stroke="#000" stroke-width="0">4</text>
<text transform="translate(482.85,532.50) scale(1.1174,1)" font-family="Liberation Sans" font-weight="bold" font-size="15.5" fill="#000" stroke="#000" stroke-width="0">6</text>
<text transform="translate(508.57,532.50) scale(1.0948,1)" font-family="Liberation Sans" font-weight="bold" font-size="15.5" fill="#000" stroke="#000" stroke-width="0">8</text>
<text transform="translate(529.39,532.50) scale(1.0859,1)" font-family="Liberation Sans" font-weight="bold" font-size="15.5" fill="#000" stroke="#000" stroke-width="0">10</text>
<text transform="translate(555.01,532.50) scale(1.0859,1)" font-family="Liberation Sans" font-weight="bold" font-size="15.5" fill="#000" stroke="#000" stroke-width="0">12</text>
<text transform="translate(580.66,532.50) scale(1.0495,1)" font-family="Liberation Sans" font-weight="bold" font-size="15.5" fill="#000" stroke="#000" stroke-width="0">14</text>
<text transform="translate(606.26,532.50) scale(1.0806,1)" font-family="Liberation Sans" font-weight="bold" font-size="15.5" fill="#000" stroke="#000" stroke-width="0">16</text>
<text transform="translate(631.88,532.50) scale(1.0753,1)" font-family="Liberation Sans" font-weight="bold" font-size="15.5" fill="#000" stroke="#000" stroke-width="0">18</text>
<text transform="translate(657.93,532.50) scale(1.0597,1)" font-family="Liberation Sans" font-weight="bold" font-size="15.5" fill="#000" stroke="#000" stroke-width="0">20</text>
<text transform="translate(508.74,548.30) scale(0.9738,1)" font-family="Liberation Sans" font-weight="bold" font-size="16.5" fill="#000" stroke="#000" stroke-width="0">Time (h)</text>
<g transform="translate(373.20,469.62) rotate(-90) scale(0.9520,1)" font-family="Liberation Sans" font-weight="bold" fill="#000" stroke="#000" stroke-width="0">
<text x="0.00" y="0.00" font-size="16.5">H</text>
<text x="11.92" y="3.50" font-size="10.5">2</text>
<text x="17.76" y="0.00" font-size="16.5"> gas (mmol·g</text>
<text x="120.43" y="-7.50" font-size="10.5">-1</text>
<text x="129.77" y="0.00" font-size="16.5">)</text>
</g>
<line x1="563.10" y1="311.30" x2="575.80" y2="311.30" stroke="#f0323c" stroke-width="2" />
<line x1="590.20" y1="311.30" x2="603.10" y2="311.30" stroke="#f0323c" stroke-width="2" />
<circle cx="583.00" cy="311.30" r="5.4" fill="url(#gr)"/>
<text transform="translate(607.67,316.70) scale(0.9802,1)" font-family="Liberation Sans" font-weight="bold" font-size="15" fill="#000" stroke="#000" stroke-width="0">water</text>
<line x1="563.10" y1="333.00" x2="575.80" y2="333.00" stroke="#1f68e0" stroke-width="2" />
<line x1="590.20" y1="333.00" x2="603.10" y2="333.00" stroke="#1f68e0" stroke-width="2" />
<circle cx="583.00" cy="333.00" r="5.4" fill="url(#gB)"/>
<text transform="translate(607.10,338.20) scale(0.9614,1)" font-family="Liberation Sans" font-weight="bold" font-size="15" fill="#000" stroke="#000" stroke-width="0">seawater</text>
<text transform="translate(360.31,302.30) scale(0.9637,1)" font-family="Liberation Sans" font-weight="bold" font-size="22.6" fill="#000" stroke="#000" stroke-width="0">(d)</text>
</svg>
</body></html>
